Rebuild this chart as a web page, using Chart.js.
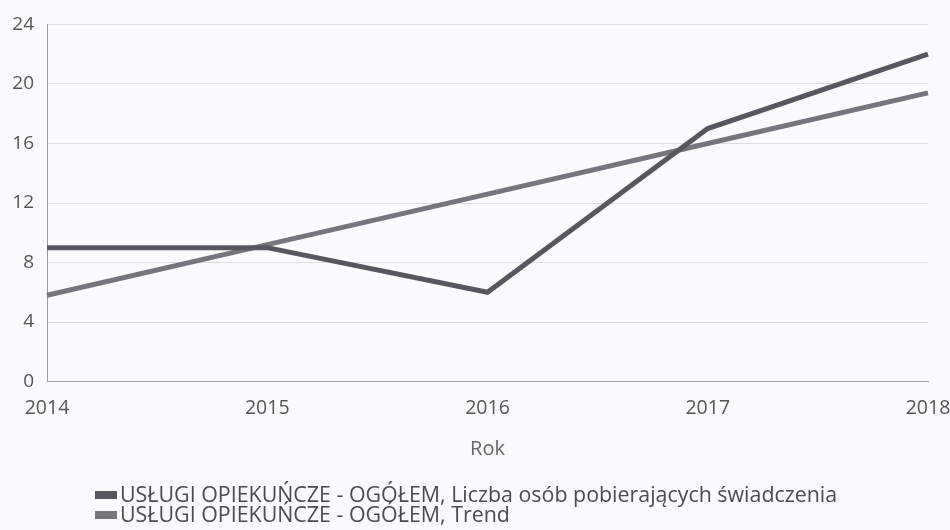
<!DOCTYPE html>
<html lang="pl">
<head>
    <meta charset="UTF-8">
    <title>Usługi opiekuńcze</title>
    <script src="https://cdn.jsdelivr.net/npm/chart.js"></script>
    <style>
        body { margin: 0; background: #fbfbfd; font-family: "Open Sans", sans-serif; }
        #wrap { position: relative; width: 950px; height: 530px; }
        #legend { position: absolute; left: 95px; top: 484px; font-size: 21.4px; color: #4a4a50; line-height: 20px; }
        #legend span.box { display: inline-block; width: 22px; height: 8px; margin-right: 3px; vertical-align: 3px; }
    </style>
</head>
<body>
    <div id="wrap">
        <canvas id="chart" width="950" height="530"></canvas>
        <div id="legend"></div>
    </div>
    <script>
        // data
        const years = ["2014", "2015", "2016", "2017", "2018"];
        const persons = [9, 9, 6, 17, 22];
        const trend = [5.8, 9.2, 12.6, 16, 19.4];
        const seriesNames = [
            "USŁUGI OPIEKUŃCZE - OGÓŁEM, Liczba osób pobierających świadczenia",
            "USŁUGI OPIEKUŃCZE - OGÓŁEM, Trend"
        ];
        const colors = ["#58575f", "#77767e"];

        const ctx = document.getElementById("chart").getContext("2d");
        new Chart(ctx, {
            type: "line",
            data: {
                labels: years,
                datasets: [
                    { label: seriesNames[0], data: persons, borderColor: colors[0], borderWidth: 5, pointRadius: 0, tension: 0 },
                    { label: seriesNames[1], data: trend, borderColor: colors[1], borderWidth: 5, pointRadius: 0, tension: 0 },
                ],
            },
            options: {
                responsive: false,
                animation: false,
                layout: { padding: { top: 21, right: 22, bottom: 65, left: 0 } },
                plugins: { legend: { display: false }, tooltip: { enabled: false } },
                scales: {
                    x: {
                        // let the end labels hang over the edge instead of shrinking the plot
                        afterFit: (scale) => { scale.paddingLeft = 0; scale.paddingRight = 0; },
                        grid: { display: false },
                        border: { display: true, color: "#9a9aa0", width: 1 },
                        ticks: { color: "#555", font: { family: "Open Sans", size: 19.5 }, padding: 7, maxRotation: 0 },
                        title: { display: true, text: "Rok", color: "#666", font: { family: "Open Sans", size: 20 }, padding: { top: 10 } },
                    },
                    y: {
                        min: 0,
                        max: 24,
                        afterFit: (scale) => { scale.width = 47; },
                        grid: { color: "#dcdce2", drawTicks: false },
                        border: { display: true, color: "#9a9aa0", width: 1 },
                        ticks: { stepSize: 4, color: "#555", font: { family: "Open Sans", size: 19 }, padding: 13 },
                    },
                },
            },
        });

        // legend as plain text under the chart
        const legend = document.getElementById("legend");
        seriesNames.forEach((name, i) => {
            const row = document.createElement("div");
            row.innerHTML = '<span class="box" style="background:' + colors[i] + '"></span>' + name;
            legend.appendChild(row);
        });
    </script>
</body>
</html>
